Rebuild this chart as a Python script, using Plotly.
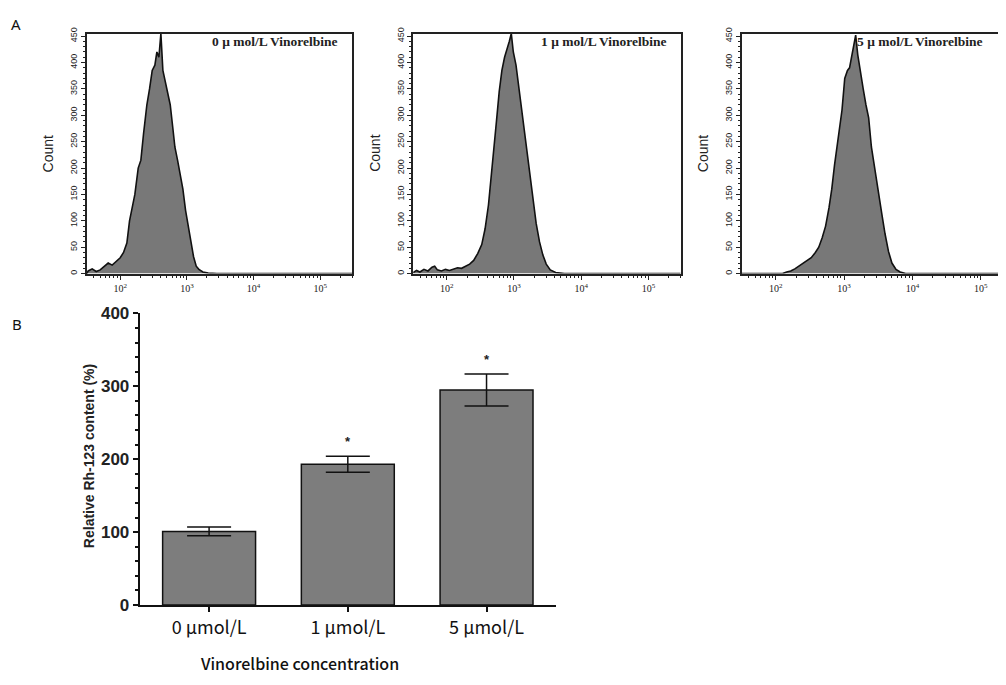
import plotly.graph_objects as go

# The page body has an 8px default margin, so the figure is sized and placed to fit the window.
WIN_W, WIN_H = 1006, 685
OX, OY = 8, 8
FW, FH = WIN_W - OX, WIN_H - OY

# ---------------- Panel A data (flow cytometry histograms) ----------------
hist_titles = ["0 μ mol/L Vinorelbine", "1 μ mol/L Vinorelbine", "5 μ mol/L Vinorelbine"]

h1_log = [1.50, 1.52, 1.58, 1.64, 1.70, 1.76, 1.82, 1.88, 1.94, 2.00, 2.05, 2.10, 2.14, 2.18, 2.22,
          2.27, 2.31, 2.35, 2.40, 2.44, 2.48, 2.52, 2.55, 2.58, 2.61, 2.64, 2.68, 2.72, 2.75, 2.79,
          2.82, 2.86, 2.90, 2.94, 2.98, 3.02, 3.06, 3.10, 3.14, 3.18, 3.24, 3.32, 3.45, 5.48]
h1_cnt = [0, 5, 9, 4, 7, 14, 20, 16, 24, 30, 40, 58, 100, 125, 150,
          200, 215, 265, 320, 350, 385, 395, 420, 410, 455, 385, 360, 335, 320, 275,
          240, 215, 185, 160, 120, 90, 55, 32, 14, 8, 3, 1, 0, 0]

h2_log = [1.50, 1.55, 1.60, 1.66, 1.72, 1.78, 1.82, 1.86, 1.92, 1.98, 2.04, 2.10, 2.16, 2.22, 2.28,
          2.34, 2.40, 2.46, 2.52, 2.57, 2.62, 2.66, 2.70, 2.74, 2.78, 2.82, 2.86, 2.90, 2.93, 2.96,
          2.99, 3.03, 3.07, 3.11, 3.15, 3.19, 3.23, 3.28, 3.33, 3.38, 3.43, 3.48, 3.54, 3.62, 3.75, 5.48]
h2_cnt = [2, 6, 3, 8, 5, 12, 14, 7, 5, 8, 6, 9, 11, 10, 14,
          18, 25, 38, 55, 85, 130, 180, 235, 290, 345, 385, 410, 425, 440, 455,
          420, 395, 355, 305, 265, 225, 190, 140, 95, 60, 35, 18, 7, 2, 0, 0]

h3_log = [1.50, 2.10, 2.16, 2.22, 2.28, 2.34, 2.40, 2.46, 2.52, 2.58, 2.63, 2.68, 2.73, 2.78, 2.82,
          2.86, 2.90, 2.94, 2.97, 3.01, 3.05, 3.08, 3.11, 3.14, 3.17, 3.20, 3.24, 3.28, 3.32, 3.36,
          3.40, 3.45, 3.50, 3.55, 3.60, 3.65, 3.70, 3.76, 3.82, 3.90, 5.34]
h3_cnt = [0, 0, 3, 5, 9, 14, 19, 24, 30, 40, 50, 68, 90, 125, 160,
          205, 245, 285, 310, 370, 385, 390, 410, 430, 452, 415, 380, 350, 320, 295,
          240, 195, 155, 115, 75, 42, 20, 8, 3, 0, 0]

hist_logs = [h1_log, h2_log, h3_log]
hist_cnts = [h1_cnt, h2_cnt, h3_cnt]

decade_vals = [100, 1000, 10000, 100000]
decade_text = ["10<sup>2</sup>", "10<sup>3</sup>", "10<sup>4</sup>", "10<sup>5</sup>"]
count_ticks = [0, 50, 100, 150, 200, 250, 300, 350, 400, 450]

# ---------------- Panel B data (bar chart) ----------------
conc_labels = ["0 μmol/L", "1 μmol/L", "5 μmol/L"]
rh123_mean = [101, 193, 295]
rh123_sd = [6, 11, 22]
signif = ["", "*", "*"]
rh_ticks = [0, 100, 200, 300, 400]

# ---------------- Layout helpers (window pixel -> paper) ----------------
def px_x(p):
    return (p - OX) / FW

def px_y(p):
    return 1 - (p - OY) / FH

hist_px = [(87, 353), (414, 682), (743, 1006)]
hist_ranges = [[1.5, 5.48], [1.5, 5.48], [1.5, 5.34]]
hist_top, hist_bot = 25, 272

minor_vals = [m * 10 ** d for d in range(1, 6) for m in range(2, 10)]

fig = go.Figure()
annotations = []

for i in range(3):
    n = "" if i == 0 else str(i + 1)
    xs = [10 ** v for v in hist_logs[i]]
    fig.add_trace(go.Scatter(
        x=xs, y=hist_cnts[i], mode="lines", fill="tozeroy",
        fillcolor="#787878", line=dict(color="#111111", width=1.6),
        xaxis="x" + n, yaxis="y" + n, showlegend=False, hoverinfo="skip"))
    x0, x1 = hist_px[i]
    fig.layout["xaxis" + n] = dict(
        domain=[px_x(x0), min(1.0, px_x(x1))], anchor="y" + n, type="log",
        range=hist_ranges[i], showline=True, mirror=True, linecolor="#222", linewidth=1.6,
        showgrid=False, zeroline=False, ticks="outside", ticklen=5, tickwidth=1.3,
        tickcolor="#222", tickmode="array", tickvals=decade_vals, ticktext=decade_text,
        tickfont=dict(family="Liberation Serif", size=10, color="#222"),
        minor=dict(tickmode="array", tickvals=minor_vals, ticks="outside", ticklen=3,
                   tickwidth=1.1, tickcolor="#222"))
    fig.layout["yaxis" + n] = dict(
        domain=[px_y(hist_bot), px_y(hist_top)], anchor="x" + n,
        range=[0, 455], showline=True, mirror=True, linecolor="#222", linewidth=1.6,
        showgrid=False, zeroline=False, ticks="outside", ticklen=4, tickwidth=1.3,
        tickcolor="#222", tickmode="array", tickvals=count_ticks, tickangle=-90,
        tickfont=dict(family="Liberation Sans", size=9, color="#222"),
        minor=dict(dtick=10, ticks="outside", ticklen=2, tickwidth=1, tickcolor="#222"))
    # Count title
    annotations.append(dict(
        x=px_x(x0 - 39), y=px_y((hist_top + hist_bot) / 2), xref="paper", yref="paper",
        text="Count", textangle=-90, showarrow=False,
        font=dict(family="Liberation Sans", size=14, color="#222"),
        xanchor="center", yanchor="middle"))
    # inner title
    if i < 2:
        annotations.append(dict(
            x=px_x(x1 - 12), y=px_y(33), xref="paper", yref="paper", text=hist_titles[i],
            showarrow=False, xanchor="right", yanchor="middle",
            font=dict(family="Liberation Serif", size=13.5, color="#222", weight="bold")))
    else:
        annotations.append(dict(
            x=px_x(857), y=px_y(33), xref="paper", yref="paper", text=hist_titles[i],
            showarrow=False, xanchor="left", yanchor="middle",
            font=dict(family="Liberation Serif", size=13.5, color="#222", weight="bold")))

# ---------------- Bar chart ----------------
fig.add_trace(go.Bar(
    x=conc_labels, y=rh123_mean, width=0.67,
    marker=dict(color="#7d7d7d", line=dict(color="#111", width=1.5)),
    error_y=dict(type="data", array=rh123_sd, visible=True, color="#111",
                 thickness=1.5, width=22),
    xaxis="x4", yaxis="y4", showlegend=False, hoverinfo="skip"))

bx0, bx1 = 140, 557
by_top, by_bot = 313, 613
fig.layout["xaxis4"] = dict(
    domain=[px_x(bx0), px_x(bx1)], anchor="y4", type="category", range=[-0.5, 2.5],
    showline=True, linecolor="#111", linewidth=2, ticks="outside", ticklen=5, tickwidth=2,
    tickcolor="#111", showgrid=False, zeroline=False,
    tickfont=dict(family="Noto Sans CJK JP", size=18, color="#111"))
fig.layout["yaxis4"] = dict(
    domain=[px_y(by_bot), px_y(by_top)], anchor="x4", range=[0, 400],
    showline=True, linecolor="#111", linewidth=2, ticks="outside", ticklen=5, tickwidth=2,
    tickcolor="#111", showgrid=False, zeroline=False, tickmode="array", tickvals=rh_ticks,
    tickfont=dict(family="Liberation Sans", size=17, color="#222", weight="bold"),
    minor=dict(dtick=20, ticks="outside", ticklen=3, tickwidth=1.5, tickcolor="#111"))

for lab, m, s, sg in zip(conc_labels, rh123_mean, rh123_sd, signif):
    if sg:
        annotations.append(dict(
            x=lab, y=m + s + 20, xref="x4", yref="y4", text=sg, showarrow=False,
            yanchor="middle", font=dict(family="Liberation Sans", size=13, color="#222",
                                        weight="bold")))

annotations.append(dict(
    x=px_x(89), y=px_y(460), xref="paper", yref="paper",
    text="Relative Rh-123 content (%)", textangle=-90, showarrow=False,
    xanchor="center", yanchor="middle",
    font=dict(family="Liberation Sans", size=14, color="#222", weight="bold")))
annotations.append(dict(
    x=px_x(300), y=px_y(673), xref="paper", yref="paper",
    text="Vinorelbine concentration", showarrow=False, xanchor="center", yanchor="middle",
    font=dict(family="Noto Sans CJK JP", size=16, color="#111", weight=500)))

# Panel letters
annotations.append(dict(x=px_x(16), y=px_y(15), xref="paper", yref="paper", text="A",
                        showarrow=False, xanchor="center", yanchor="middle",
                        font=dict(family="Noto Sans", size=15, color="#111")))
annotations.append(dict(x=px_x(17), y=px_y(324), xref="paper", yref="paper", text="B",
                        showarrow=False, xanchor="center", yanchor="middle",
                        font=dict(family="Noto Sans", size=15, color="#111")))

fig.update_layout(
    width=FW, height=FH, margin=dict(l=0, r=0, t=0, b=0),
    paper_bgcolor="white", plot_bgcolor="white", annotations=annotations)

fig.write_html("out.html")
